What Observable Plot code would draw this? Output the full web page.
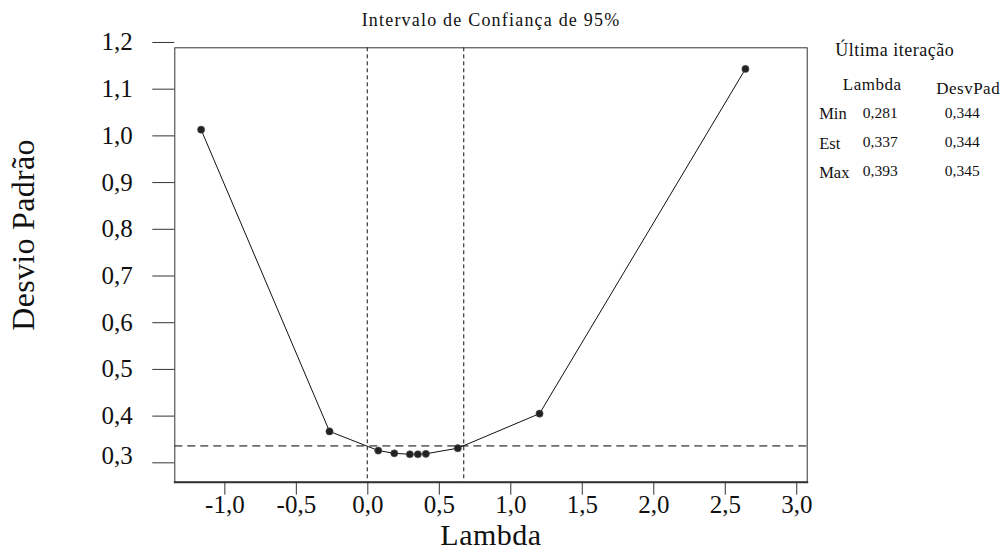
<!DOCTYPE html>
<html>
<head>
<meta charset="utf-8">
<script src="https://cdn.jsdelivr.net/npm/d3@7"></script>
<script src="https://cdn.jsdelivr.net/npm/@observablehq/plot@0.6"></script>
<style>
  html, body { margin: 0; padding: 0; background: #fff; }
  #chart { width: 1005px; height: 550px; }
</style>
</head>
<body>
<div id="chart"></div>
<script>
// ---- data ----
const lambdaVals  = [-1.18, -0.282, 0.059, 0.171, 0.280, 0.336, 0.392, 0.615, 1.187, 2.627];
const desvPadVals = [1.039, 0.393, 0.352, 0.346, 0.344, 0.344, 0.345, 0.357, 0.431, 1.169];
const ciLambda = [-0.018, 0.657];
const ciLevel = [0.362];
const xTicks = [-1.0, -0.5, 0.0, 0.5, 1.0, 1.5, 2.0, 2.5, 3.0];
const yTicks = [0.3, 0.4, 0.5, 0.6, 0.7, 0.8, 0.9, 1.0, 1.1, 1.2];
const titleText = "Intervalo de Confiança de 95%";
const xTitle = "Lambda";
const yTitle = "Desvio Padrão";
const tableTitle = "Última iteração";
const tableHeaders = ["Lambda", "DesvPad"];
const tableRowLabels = ["Min", "Est", "Max"];
const tableLambda = ["0,281", "0,337", "0,393"];
const tableDesvPad = ["0,344", "0,344", "0,345"];

const points = lambdaVals.map((l, i) => ({lambda: l, sd: desvPadVals[i]}));
const fmt = d => d.toFixed(1).replace(".", ",");
const FONT = "Liberation Serif";
const mid = {lineAnchor: "middle"};

const tableMarks = [];
tableMarks.push(Plot.text([tableTitle], {...mid, frameAnchor: "top-right", textAnchor: "start", dx: 28, dy: 2.6, fontSize: 18}));
tableMarks.push(Plot.text([tableHeaders[0]], {...mid, frameAnchor: "top-right", textAnchor: "middle", dx: 65, dy: 37, fontSize: 17}));
tableMarks.push(Plot.text([tableHeaders[1]], {...mid, frameAnchor: "top-right", textAnchor: "middle", dx: 161, dy: 41, fontSize: 17}));
tableRowLabels.forEach((t, i) => {
  tableMarks.push(Plot.text([t], {...mid, frameAnchor: "top-right", textAnchor: "start", dx: 12, dy: 66 + 29.5 * i, fontSize: 16.5}));
  tableMarks.push(Plot.text([tableLambda[i]], {...mid, frameAnchor: "top-right", textAnchor: "middle", dx: 73, dy: 65 + 29.3 * i, fontSize: 15.5}));
  tableMarks.push(Plot.text([tableDesvPad[i]], {...mid, frameAnchor: "top-right", textAnchor: "middle", dx: 155, dy: 65 + 29.3 * i, fontSize: 15.5}));
});

const chart = Plot.plot({
  width: 1005,
  height: 550,
  marginLeft: 174.3,
  marginRight: 198.3,
  marginTop: 47.3,
  marginBottom: 68.3,
  style: {fontFamily: FONT, color: "#111", background: "#fff"},
  x: {domain: [-1.364, 3.059]},
  y: {domain: [0.2842, 1.2143]},
  marks: [
    Plot.ruleY(ciLevel, {stroke: "#6e6e6e", strokeWidth: 1.6, strokeDasharray: "8,5"}),
    Plot.ruleX(ciLambda, {stroke: "#111", strokeWidth: 1, strokeDasharray: "4,3"}),
    Plot.line(points, {x: "lambda", y: "sd", stroke: "#111", strokeWidth: 1}),
    Plot.dot(points, {x: "lambda", y: "sd", r: 3.6, fill: "#222", stroke: "#555", strokeWidth: 0.6}),
    Plot.frame({stroke: "#333", strokeWidth: 1}),
    Plot.frame({anchor: "bottom", stroke: "#333", strokeWidth: 2}),
    Plot.axisY({ticks: yTicks, tickFormat: d => (d > 0.35 ? fmt(d) : ""), tickSize: 22, tickPadding: 20, dy: -12, fontSize: 25, label: null, stroke: "#333"}),
    Plot.axisY({ticks: yTicks.filter(t => t < 0.35), tickFormat: fmt, tickSize: 0, tickPadding: 42, dy: -19, fontSize: 25, label: null}),
    Plot.axisX({ticks: xTicks, tickFormat: fmt, tickSize: 13, tickPadding: 0, dx: -2, fontSize: 25, label: null, stroke: "#333"}),
    Plot.text([xTitle], {...mid, textAnchor: "middle", frameAnchor: "bottom", dy: 53, fontSize: 30}),
    Plot.text([yTitle], {...mid, textAnchor: "middle", frameAnchor: "left", rotate: -90, dx: -151, dy: -30, fontSize: 32}),
    Plot.text([titleText], {...mid, textAnchor: "middle", frameAnchor: "top", dy: -28, fontSize: 18}),
    ...tableMarks
  ]
});
document.getElementById("chart").appendChild(chart);

// wider letter spacing to approximate the Computer Modern look of the original
const spacing = new Map([[titleText, "1.2px"], [tableTitle, "0.5px"], [tableHeaders[0], "0.5px"], [tableHeaders[1], "0.5px"], [yTitle, "0.3px"], [xTitle, "0.5px"]]);
d3.select(chart).selectAll("text").each(function() {
  const s = spacing.get(this.textContent);
  if (s) this.setAttribute("letter-spacing", s);
});
</script>
</body>
</html>
